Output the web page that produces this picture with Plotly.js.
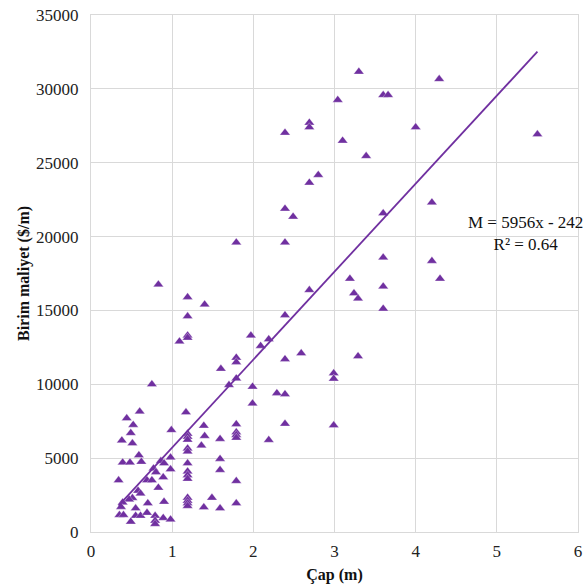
<!DOCTYPE html>
<html>
<head>
<meta charset="utf-8">
<script src="https://cdn.plot.ly/plotly-3.0.1.min.js"></script>
<style>html,body{margin:0;padding:0;background:#fff;}#chart{width:587px;height:588px;}</style>
</head>
<body>
<div id="chart"></div>
<script>
// Diameter (m)
var capX = [
  0.60,0.44,0.52,0.49,0.38,0.51,0.99,0.59,0.39,0.48,0.62,0.34,0.86,0.90,0.98,0.98,0.77,0.80,0.69,0.89,
  0.75,0.83,0.58,0.61,0.51,0.47,0.39,0.37,0.55,0.70,0.90,0.35,0.40,0.55,0.61,0.49,0.69,0.79,0.79,0.79,
  0.89,0.98,0.75,0.83,
  1.17,1.39,1.19,1.19,1.19,1.40,1.59,1.36,1.19,1.19,1.19,1.19,1.19,1.19,1.59,1.59,1.79,1.49,1.19,1.19,
  1.19,1.19,1.39,1.59,1.79,1.79,1.79,1.79,1.79,1.19,1.40,1.19,1.19,1.19,1.09,1.97,1.79,1.79,1.60,1.79,
  1.70,1.99,1.99,1.79,
  2.19,2.09,2.59,2.39,3.29,2.99,2.99,2.29,2.39,2.39,2.99,2.19,2.39,2.69,3.19,3.24,3.29,3.60,3.60,3.60,
  4.20,4.30,2.39,3.60,4.20,2.39,2.49,2.69,2.80,3.39,3.10,2.39,2.69,2.69,4.00,5.50,3.04,3.60,3.66,3.30,
  4.29
];
// Unit cost ($/m)
var maliyetY = [
  8150,7700,7250,6700,6200,6000,6900,5200,4700,4700,4750,3500,4800,4650,5050,4250,4300,4050,3500,3700,
  3500,3000,2800,2600,2300,2200,2000,1700,1600,1950,2050,1150,1150,1100,1100,700,1300,1100,770,540,
  950,850,10000,16750,
  8100,7200,6650,6450,6250,6500,6300,5850,5650,5450,4650,4100,3850,3600,4950,4200,3450,2320,2320,2120,
  1940,1760,1670,1600,1940,7300,6750,6570,6380,15900,15400,14600,13300,13150,12900,13300,11800,11500,11050,10400,
  9950,9840,8700,19600,
  13050,12600,12100,11700,11900,10750,10380,9400,9330,7330,7220,6230,14680,16380,17150,16160,15800,16620,15120,18580,
  18350,17150,19600,21580,22310,21890,21350,23650,24170,25450,26490,27030,27710,27400,27400,26920,29250,29580,29580,31160,
  30660
];
// Trendline coefficients from the chart label
var slope = 5956;
var intercept = -242;
var r2 = 0.64;

var xTicks = [0,1,2,3,4,5,6];
var yTicks = [0,5000,10000,15000,20000,25000,30000,35000];

var xMin = Math.min.apply(null, capX), xMax = Math.max.apply(null, capX);
var trendX = [xMin, xMax];
var trendY = trendX.map(function(v){ return slope*v + intercept; });

var purple = '#7030A0';
var serif = '"Liberation Serif", "Times New Roman", serif';

var data = [
  {
    x: capX, y: maliyetY, type: 'scatter', mode: 'markers',
    marker: {symbol: 'triangle-up', size: 9, color: purple, line: {color: 'rgba(255,255,255,0.6)', width: 0.5}},
    hoverinfo: 'x+y'
  },
  {
    x: trendX, y: trendY, type: 'scatter', mode: 'lines',
    line: {color: purple, width: 1.8}, hoverinfo: 'skip'
  }
];

var layout = {
  width: 587, height: 588,
  margin: {l: 91, r: 9, t: 15, b: 56},
  paper_bgcolor: '#fff', plot_bgcolor: '#fff',
  showlegend: false,
  font: {family: serif, size: 17, color: '#222'},
  xaxis: {
    range: [0, 6], tickvals: xTicks, ticktext: xTicks.map(String),
    showgrid: true, gridcolor: '#d9d9d9', gridwidth: 1,
    showline: true, linecolor: '#d9d9d9', linewidth: 1, mirror: true,
    zeroline: false, ticks: 'outside', ticklen: 4, tickcolor: 'rgba(0,0,0,0)',
    tickfont: {family: serif, size: 17, color: '#222'},
    title: {text: '<b>Çap (m)</b>', font: {family: serif, size: 16, color: '#111'}, standoff: 8}
  },
  yaxis: {
    range: [0, 35000], tickvals: yTicks, ticktext: yTicks.map(String),
    showgrid: true, gridcolor: '#d9d9d9', gridwidth: 1,
    showline: true, linecolor: '#d9d9d9', linewidth: 1, mirror: true,
    zeroline: false, ticks: 'outside', ticklen: 8, tickcolor: 'rgba(0,0,0,0)',
    tickfont: {family: serif, size: 17, color: '#222'},
    title: {text: '<b>Birim maliyet ($/m)</b>', font: {family: serif, size: 16, color: '#111'}, standoff: 2}
  },
  annotations: [
    {
      x: 5.35, y: 20200, xref: 'x', yref: 'y', showarrow: false,
      text: 'M = ' + slope + 'x - ' + Math.abs(intercept) + '<br>R² = ' + r2,
      align: 'center', font: {family: serif, size: 17, color: '#111'},
      bgcolor: 'rgba(255,255,255,0)'
    }
  ]
};

Plotly.newPlot('chart', data, layout, {displayModeBar: false, staticPlot: true});
</script>
</body>
</html>
